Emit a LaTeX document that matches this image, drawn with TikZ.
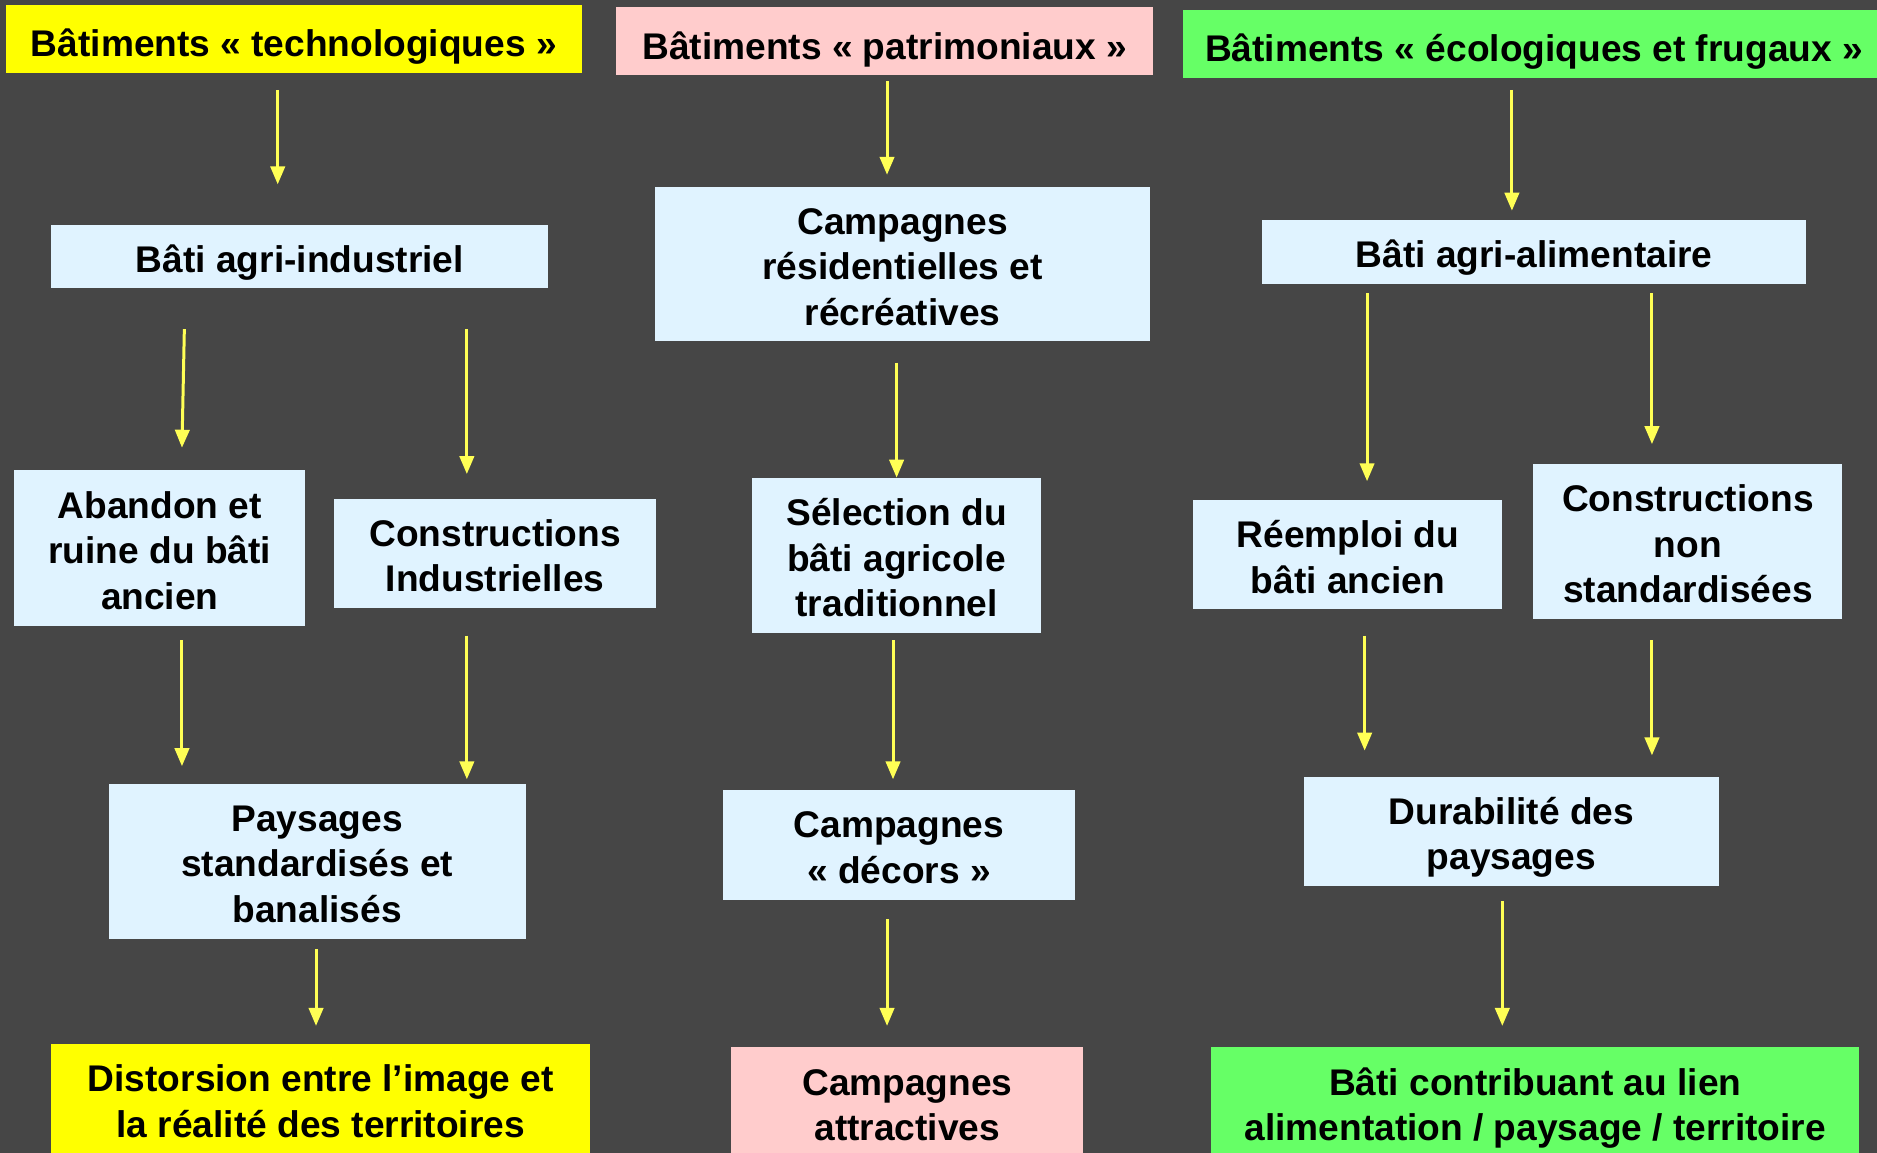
\documentclass[tikz,border=0pt]{standalone}
\usepackage{fontspec}
\setmainfont{Liberation Sans}
\usetikzlibrary{arrows.meta}
\definecolor{bg}{HTML}{464646}
\definecolor{ylw}{HTML}{FFFF00}
\definecolor{pnk}{HTML}{FFCCCC}
\definecolor{grn}{HTML}{66FF66}
\definecolor{lbl}{HTML}{E0F3FF}
\definecolor{arw}{HTML}{FFFF55}
\begin{document}
\begin{tikzpicture}[x=0.5pt,y=-0.5pt,
  box/.style={rectangle, inner sep=0pt, align=center, text=black,
    font=\fontsize{15.5}{19}\selectfont\bfseries},
  sz/.style 2 args={minimum width=#1*0.5pt, minimum height=#2*0.5pt},
  blue/.style={box, fill=lbl},
  ttl/.style={text height=15pt, text depth=0pt},
  lone/.style={text height=13pt, text depth=0pt},
  ltwo/.style={text height=32pt, text depth=0pt},
  lthree/.style={text height=51pt, text depth=0pt},
  flow/.style={draw=arw, line width=1.25pt, -{Triangle[width=6pt,length=7.5pt]}}]
\useasboundingbox (0,0) rectangle (1568,963);
\clip (0,0) rectangle (1568,963);
\fill[bg] (0,0) rectangle (1568,963);

% column 1
\node[box, ttl, fill=ylw, sz={481}{57}] (t1) at (245.5,32.5) {Bâtiments « technologiques »};
\node[blue, lone, sz={415}{53}] (b1) at (250.5,214.5) {Bâti agri-industriel};
\node[blue, lthree, sz={243}{130}] (b2a) at (133.5,458) {Abandon et\\ruine du bâti\\ancien};
\node[blue, ltwo, sz={269}{91}] (b2b) at (413.5,462.5) {Constructions\\Industrielles};
\node[blue, lthree, sz={348}{129}] (b3) at (265,719.5) {Paysages\\standardisés et\\banalisés};
\node[box, ltwo, fill=ylw, sz={450}{92}] (b4) at (268,918) {Distorsion entre l’image et\\la réalité des territoires};

% column 2
\node[box, ttl, fill=pnk, sz={448}{57}] (t2) at (739,34.5) {Bâtiments « patrimoniaux »};
\node[blue, lthree, sz={414}{129}] (c1) at (754,220.5) {Campagnes\\résidentielles et\\récréatives};
\node[blue, lthree, sz={242}{130}] (c2) at (749,464) {Sélection du\\bâti agricole\\traditionnel};
\node[blue, ltwo, sz={294}{92}] (c3) at (751,706) {Campagnes\\« décors »};
\node[box, ltwo, fill=pnk, sz={294}{92}] (c4) at (758,921) {Campagnes\\attractives};

% column 3
\node[box, ttl, fill=grn, sz={587}{57}] (t3) at (1281.5,36.5) {Bâtiments « écologiques et frugaux »};
\node[blue, lone, sz={455}{53}] (g1) at (1281.5,210.5) {Bâti agri-alimentaire};
\node[blue, ltwo, sz={258}{91}] (g2a) at (1126,463.5) {Réemploi du\\bâti ancien};
\node[blue, lthree, sz={258}{129}] (g2b) at (1410,452.5) {Constructions\\non\\standardisées};
\node[blue, ltwo, sz={347}{91}] (g3) at (1262.5,694.5) {Durabilité des\\paysages};
\node[box, ltwo, fill=grn, sz={541}{92}] (g4) at (1282.5,921) {Bâti contribuant au lien\\alimentation / paysage / territoire};

% arrow end points (arrows float between boxes)
\coordinate (a1s) at (232,75);   \coordinate (a1e) at (232,154);
\coordinate (a2s) at (154,275);  \coordinate (a2e) at (152,374);
\coordinate (a3s) at (390,275);  \coordinate (a3e) at (390,396);
\coordinate (a4s) at (152,535);  \coordinate (a4e) at (152,640);
\coordinate (a5s) at (390,531);  \coordinate (a5e) at (390,651);
\coordinate (a6s) at (264,793);  \coordinate (a6e) at (264,857);

\coordinate (p1s) at (741,68);   \coordinate (p1e) at (741,146);
\coordinate (p2s) at (749,303);  \coordinate (p2e) at (749,399);
\coordinate (p3s) at (746,535);  \coordinate (p3e) at (746,651);
\coordinate (p4s) at (741,768);  \coordinate (p4e) at (741,857);

\coordinate (e1s) at (1263,75);  \coordinate (e1e) at (1263,176);
\coordinate (e2s) at (1142,245); \coordinate (e2e) at (1142,402);
\coordinate (e3s) at (1380,245); \coordinate (e3e) at (1380,371);
\coordinate (e4s) at (1140,531); \coordinate (e4e) at (1140,627);
\coordinate (e5s) at (1380,535); \coordinate (e5e) at (1380,631);
\coordinate (e6s) at (1255,753); \coordinate (e6e) at (1255,857);

\foreach \a in {a1,a2,a3,a4,a5,a6,p1,p2,p3,p4,e1,e2,e3,e4,e5,e6}
  \draw[flow] (\a s) -- (\a e);
\end{tikzpicture}
\end{document}
